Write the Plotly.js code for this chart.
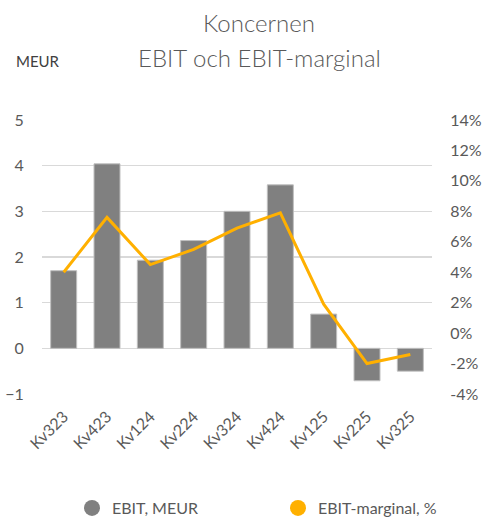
<!DOCTYPE html>
<html>
<head>
<meta charset="utf-8">
<script src="https://cdn.plot.ly/plotly-3.0.1.min.js"></script>
<style>html,body{margin:0;padding:0;background:#fff;}#chart{width:483px;height:518px;}</style>
</head>
<body>
<div id="chart"></div>
<script>
var quarters = ["Kv323","Kv423","Kv124","Kv224","Kv324","Kv424","Kv125","Kv225","Kv325"];
var ebit = [1.70, 4.04, 1.93, 2.36, 3.00, 3.58, 0.75, -0.71, -0.50];
var margin = [4.0, 7.6, 4.5, 5.5, 6.9, 7.9, 1.9, -2.0, -1.4];
var leftTicks = [-1, 0, 1, 2, 3, 4, 5];
var rightTicks = [-4, -2, 0, 2, 4, 6, 8, 10, 12, 14];
var rightLabels = rightTicks.map(function (v) { return v + "%"; });

var FONT = "Lato, 'Open Sans', sans-serif";
var GRAY = "#808080";
var ORANGE = "#FFB000";
var TXT = "#595959";

// plot area in pixels: x 42..432, y 120..394
function px2paperX(px) { return (px - 42) / 390; }
function px2paperY(py) { return (394 - py) / 274; }

var traces = [
  {
    type: "bar", x: quarters, y: ebit, name: "EBIT, MEUR",
    marker: {color: GRAY, line: {color: "#bfbfbf", width: 1}},
    showlegend: false, hoverinfo: "skip"
  },
  {
    type: "scatter", mode: "lines", x: quarters, y: margin, yaxis: "y2",
    name: "EBIT-marginal, %", line: {color: ORANGE, width: 3},
    showlegend: false, hoverinfo: "skip"
  },
  {
    type: "scatter", mode: "markers", x: [null], y: [null], name: "EBIT, MEUR",
    marker: {symbol: "circle", size: 20, color: GRAY}, showlegend: true, legend: "legend"
  },
  {
    type: "scatter", mode: "markers", x: [null], y: [null], name: "EBIT-marginal, %",
    marker: {symbol: "circle", size: 20, color: ORANGE}, showlegend: true, legend: "legend2"
  }
];

var legendBase = {
  orientation: "h", xanchor: "left", xref: "container",
  y: 1 - 508 / 518, yanchor: "middle", yref: "container",
  font: {family: FONT, size: 16, color: TXT}, itemwidth: 30
};

var layout = {
  width: 483, height: 518,
  margin: {l: 42, r: 51, t: 120, b: 124},
  paper_bgcolor: "#fff", plot_bgcolor: "#fff",
  font: {family: FONT, color: TXT, size: 16},
  bargap: 0.4,
  xaxis: {
    type: "category", tickangle: -45, showgrid: false, zeroline: false,
    showline: false, ticks: "outside", ticklen: 6, tickcolor: "rgba(0,0,0,0)",
    tickfont: {family: FONT, size: 16, color: TXT}
  },
  yaxis: {
    range: [-1, 5], tickvals: leftTicks, showgrid: true, gridcolor: "#d9d9d9", gridwidth: 1.5,
    zeroline: false, showline: false, ticks: "outside", ticklen: 14, tickcolor: "rgba(0,0,0,0)",
    tickfont: {family: FONT, size: 16, color: TXT}
  },
  yaxis2: {
    overlaying: "y", side: "right", range: [-4, 14], tickvals: rightTicks, ticktext: rightLabels,
    showgrid: false, zeroline: false, showline: false,
    ticks: "outside", ticklen: 14, tickcolor: "rgba(0,0,0,0)",
    tickfont: {family: FONT, size: 16, color: TXT}
  },
  legend: Object.assign({}, legendBase, {x: 72 / 483}),
  legend2: Object.assign({}, legendBase, {x: 278 / 483}),
  annotations: [
    {text: "Koncernen", xref: "paper", yref: "paper", x: px2paperX(259), xanchor: "center",
     y: px2paperY(22), yanchor: "middle", showarrow: false,
     font: {family: FONT, size: 24, color: TXT, weight: 300}},
    {text: "EBIT och EBIT-marginal", xref: "paper", yref: "paper", x: px2paperX(259), xanchor: "center",
     y: px2paperY(57), yanchor: "middle", showarrow: false,
     font: {family: FONT, size: 24, color: TXT, weight: 300}},
    {text: "MEUR", xref: "paper", yref: "paper", x: px2paperX(14), xanchor: "left",
     y: px2paperY(61), yanchor: "middle", showarrow: false,
     font: {family: FONT, size: 15, color: "#404040"}}
  ]
};

Plotly.newPlot("chart", traces, layout, {displayModeBar: false, staticPlot: true});
</script>
</body>
</html>
